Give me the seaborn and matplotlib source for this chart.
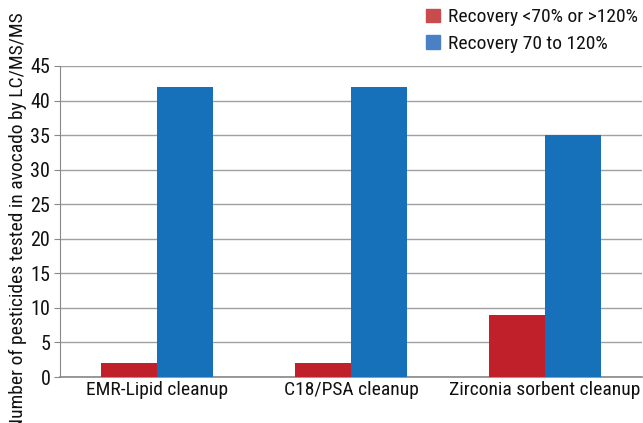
import pandas as pd
import matplotlib.pyplot as plt
from matplotlib.patches import Patch
import seaborn as sns

# data
methods = ["EMR-Lipid cleanup", "C18/PSA cleanup", "Zirconia sorbent cleanup"]
series = ["Recovery <70% or >120%", "Recovery 70 to 120%"]
out_of_range = [2, 2, 9]
in_range = [42, 42, 35]
y_ticks = [0, 5, 10, 15, 20, 25, 30, 35, 40, 45]

df = pd.DataFrame({
    "method": methods * 2,
    "series": [series[0]] * 3 + [series[1]] * 3,
    "count": out_of_range + in_range,
})

sns.set_style("white")
plt.rcParams["font.family"] = ["Roboto Condensed", "Archivo Narrow", "PT Sans Narrow", "DejaVu Sans"]

fig = plt.figure(figsize=(6.43, 4.23), dpi=100)
ax = fig.add_axes([0.0933, 0.1087, 0.905, 0.7353])

bar_colors = ["#C0202A", "#1771BA"]
sns.barplot(data=df, x="method", y="count", hue="series", palette=bar_colors,
            width=0.58, saturation=1, ax=ax, legend=False, zorder=3, linewidth=0)

ax.set_ylim(0, 45)
ax.set_yticks(y_ticks)
ax.set_xlim(-0.5, 2.5)
ax.set_xticks([-0.5, 0.5, 1.5, 2.5], minor=True)
ax.tick_params(axis="x", which="major", length=0, labelsize=14, pad=3, labelcolor="#111111")
ax.tick_params(axis="x", which="minor", length=4, color="#888888", direction="out")
ax.tick_params(axis="y", length=4, color="#888888", labelsize=14.5, left=True, pad=3,
               labelcolor="#111111")
ax.yaxis.grid(True, color="#a0a0a0", linewidth=1, zorder=0)
ax.set_xlabel("")
ax.set_ylabel("Number of pesticides tested in avocado by LC/MS/MS", fontsize=14, color="#111111")
ax.yaxis.set_label_coords(-0.057, 0.5)
for s in ["top", "right"]:
    ax.spines[s].set_visible(False)
ax.spines["left"].set_color("#888888")
ax.spines["bottom"].set_color("#888888")
ax.spines["bottom"].set_linewidth(1.2)

handles = [Patch(color="#C84B4E"), Patch(color="#4A80C4")]
fig.legend(handles, series, loc="upper left", bbox_to_anchor=(0.636, 1.022),
           frameon=False, fontsize=14, handlelength=0.7, handleheight=0.7,
           handletextpad=0.4, labelspacing=0.45, labelcolor="#111111")

fig.savefig("out.png", dpi=100)
